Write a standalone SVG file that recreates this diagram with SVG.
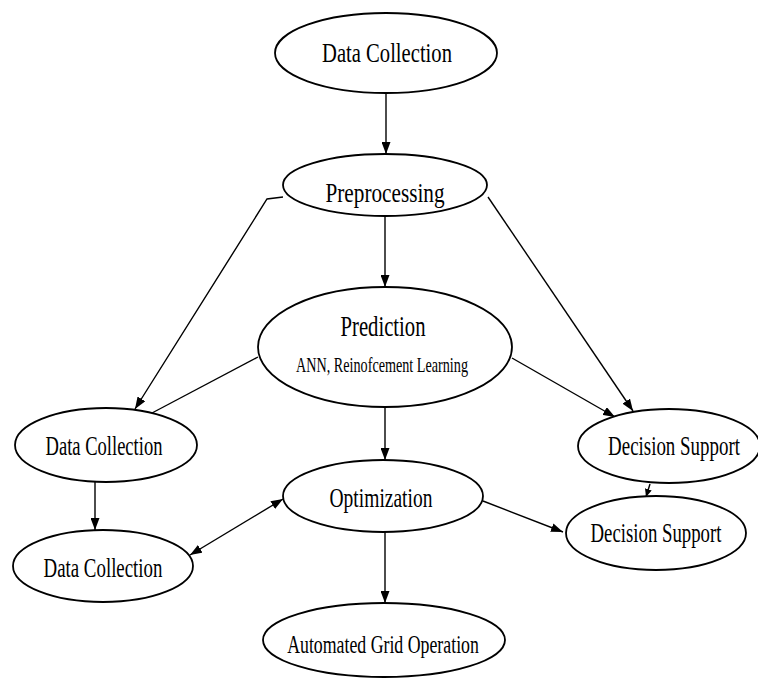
<svg xmlns="http://www.w3.org/2000/svg" width="758" height="680" viewBox="0 0 758 680">
<style>
.node ellipse{fill:#fff;stroke:#000;stroke-width:1.8}
.node text{font-family:"Liberation Serif","Times New Roman",serif;fill:#000;text-anchor:middle}
#connectors line,#connectors polyline{stroke:#000;stroke-width:1.4;fill:none}
</style>
<defs>
<marker id="ah" markerUnits="userSpaceOnUse" markerWidth="12" markerHeight="9" refX="12" refY="4.5" orient="auto-start-reverse"><path d="M0,0 L12,4.5 L0,9 z" fill="#000"/></marker>
<marker id="ahs" markerUnits="userSpaceOnUse" markerWidth="8" markerHeight="7" refX="8" refY="3.5" orient="auto"><path d="M0,0 L8,3.5 L0,7 z" fill="#000"/></marker>
</defs>
<rect width="758" height="680" fill="#fff"/>
<g id="connectors">
<line x1="386" y1="93" x2="386" y2="154" marker-end="url(#ah)"/>
<line x1="385" y1="216" x2="385" y2="287" marker-end="url(#ah)"/>
<polyline points="283,197 267,199 135,409" marker-end="url(#ah)"/>
<line x1="488" y1="197" x2="633" y2="411" marker-end="url(#ah)"/>
<line x1="512" y1="358" x2="615" y2="417" marker-end="url(#ah)"/>
<line x1="258" y1="357" x2="152" y2="413"/>
<line x1="385" y1="407" x2="385" y2="460" marker-end="url(#ah)"/>
<line x1="95" y1="482" x2="95" y2="530" marker-end="url(#ah)"/>
<line x1="190" y1="555" x2="283" y2="499" marker-start="url(#ah)" marker-end="url(#ah)"/>
<line x1="483" y1="501" x2="563" y2="532" marker-end="url(#ah)"/>
<line x1="650" y1="484" x2="646" y2="497" marker-end="url(#ahs)"/>
<line x1="385" y1="532" x2="385" y2="603" marker-end="url(#ah)"/>
</g>
<g id="n-datacollection-top" class="node"><ellipse cx="386" cy="53" rx="111" ry="40"/><text transform="translate(387,62) scale(0.736,1)" font-size="28">Data Collection</text></g>
<g id="n-preprocessing" class="node"><ellipse cx="385" cy="185" rx="102" ry="31"/><text transform="translate(385,202) scale(0.758,1)" font-size="28">Preprocessing</text></g>
<g id="n-prediction" class="node"><ellipse cx="385" cy="347" rx="127" ry="60"/><text transform="translate(383,336) scale(0.713,1)" font-size="29">Prediction</text><text transform="translate(382,372) scale(0.675,1)" font-size="21">ANN, Reinofcement Learning</text></g>
<g id="n-datacollection-mid" class="node"><ellipse cx="106" cy="445" rx="91" ry="37"/><text transform="translate(104,455) scale(0.687,1)" font-size="27">Data Collection</text></g>
<g id="n-datacollection-low" class="node"><ellipse cx="103" cy="566" rx="90" ry="36"/><text transform="translate(103,577) scale(0.699,1)" font-size="27">Data Collection</text></g>
<g id="n-optimization" class="node"><ellipse cx="383" cy="496" rx="100" ry="36"/><text transform="translate(381,507) scale(0.697,1)" font-size="28">Optimization</text></g>
<g id="n-decision-upper" class="node"><ellipse cx="669" cy="446" rx="91" ry="37"/><text transform="translate(674,455) scale(0.701,1)" font-size="27">Decision Support</text></g>
<g id="n-decision-lower" class="node"><ellipse cx="656" cy="533" rx="90" ry="37"/><text transform="translate(656,542) scale(0.696,1)" font-size="27">Decision Support</text></g>
<g id="n-automated" class="node"><ellipse cx="384" cy="640" rx="121" ry="37"/><text transform="translate(383,653) scale(0.685,1)" font-size="26">Automated Grid Operation</text></g>
</svg>
